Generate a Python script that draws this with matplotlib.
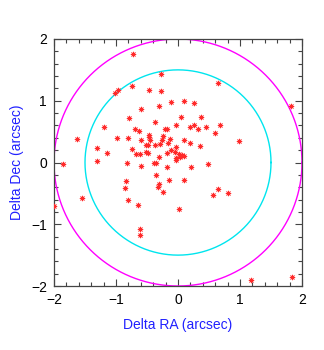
import numpy as np
import matplotlib
matplotlib.use("Agg")
import matplotlib.pyplot as plt
from matplotlib.ticker import MultipleLocator

dra = [-0.73, -0.27, -1.01, -0.97, -0.75, -0.47, -0.27, -0.31, -0.60, -0.79,
       -0.37, -1.20, -0.21, -0.18, -0.03, -0.70, -0.63, -0.46, -0.47, -0.24,
       -1.63, -0.98, -0.80, -0.60, -0.45, -0.26, -0.13, -0.52, -0.49, -0.37,
       -0.29, -0.16, -1.30, -1.14, -0.75, -0.68, -0.61, -0.52, -0.49, -0.30,
       -0.18, -0.05, -0.03, -0.12, 0.64, -0.11, 0.10, 0.26, 1.82, 0.05,
       0.37, 0.19, 0.26, 0.33, 0.45, 0.67, 0.59, 0.98, 0.09, 0.20,
       0.35, 0.01, 0.03, 0.09, -1.85, -1.30, -0.83, -0.60, -0.38, -0.35,
       -0.18, -0.03, -0.35, -0.84, -0.30, -0.33, -0.85, -0.14, -0.25, -1.55,
       -0.81, -0.64, -2.00, 0.02, -0.62, -0.61, 0.21, 0.49, 0.09, 0.65,
       0.57, 0.81, 1.18, 1.84, 0.06, -0.04]
ddec = [1.76, 1.44, 1.13, 1.17, 1.24, 1.17, 1.15, 0.91, 0.86, 0.72,
        0.65, 0.58, 0.55, 0.54, 0.61, 0.54, 0.51, 0.45, 0.42, 0.43,
        0.38, 0.40, 0.39, 0.36, 0.36, 0.36, 0.38, 0.29, 0.29, 0.29,
        0.30, 0.31, 0.23, 0.16, 0.22, 0.13, 0.13, 0.17, 0.16, 0.09,
        0.16, 0.17, 0.25, 0.21, 1.28, 0.98, 0.99, 0.97, 0.91, 0.73,
        0.73, 0.57, 0.60, 0.54, 0.57, 0.60, 0.47, 0.35, 0.36, 0.32,
        0.26, 0.14, 0.09, 0.11, -0.03, 0.02, -0.01, -0.05, 0.00, -0.01,
        -0.07, 0.04, -0.20, -0.30, -0.35, -0.40, -0.41, -0.29, -0.47, -0.58,
        -0.61, -0.69, -0.71, -0.75, -1.07, -1.18, -0.08, -0.02, -0.29, -0.43,
        -0.53, -0.50, -1.91, -1.86, 0.12, 0.08]

radii = [2.0, 1.5]
circle_colors = ["#ff00ff", "#00e5ee"]

fig = plt.figure(figsize=(3.24, 3.5), dpi=100)
ax = fig.add_axes([54/324, (350-286)/350, 248/324, 247/350])

theta = np.linspace(0, 2*np.pi, 721)
for r, c in zip(radii, circle_colors):
    ax.plot(r*np.cos(theta), r*np.sin(theta), color=c, lw=1.0, zorder=2)

ax.scatter(dra, ddec, marker=(8, 2, 0), s=12, color="#ff2a2a", linewidths=0.55, zorder=3)

ax.set_xlim(-2, 2)
ax.set_ylim(-2, 2)
ax.xaxis.set_major_locator(MultipleLocator(1))
ax.yaxis.set_major_locator(MultipleLocator(1))
ax.xaxis.set_minor_locator(MultipleLocator(0.2))
ax.yaxis.set_minor_locator(MultipleLocator(0.2))
ax.tick_params(which="both", direction="in", top=True, right=True, color="#444444", width=0.8,
               labelsize=10)
ax.tick_params(which="major", length=5, pad=5)
ax.tick_params(which="minor", length=3)
for lab in ax.get_xticklabels() + ax.get_yticklabels():
    lab.set_family("Liberation Sans")
for s in ax.spines.values():
    s.set_color("#444444")
    s.set_linewidth(0.9)

ax.set_xlabel("Delta RA (arcsec)", color="#2020ff", fontsize=10, family="Liberation Sans", labelpad=8)
ax.set_ylabel("Delta Dec (arcsec)", color="#2020ff", fontsize=10, family="Liberation Sans", labelpad=5)

fig.savefig("out.png", dpi=100)
